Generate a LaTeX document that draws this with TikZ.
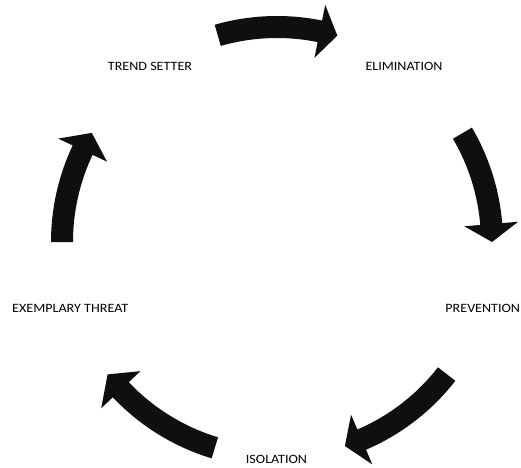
\documentclass[tikz,border=0pt]{standalone}
\usepackage{fontspec}
\setmainfont{Carlito}
\tikzset{
  lbl/.style={inner sep=0pt, xscale=1.11, transform shape, font=\fontsize{12.7}{14}\selectfont},
  cyc/.style={fill=black!94}
}
% tail angle, head-base angle, tip angle
\newcommand{\cycarrow}[3]{%
  \fill[cyc] (#1:226pt) arc[start angle=#1, end angle=#2, radius=226pt]
    -- (#2:242pt) -- (#3:215pt) -- (#2:188pt) -- (#2:204pt)
    arc[start angle=#2, end angle=#1, radius=204pt] -- cycle;}
\begin{document}
\begin{tikzpicture}[x=1pt,y=1pt]
  \useasboundingbox[fill=white] (0,0) rectangle (521,467);
  \node[lbl, anchor=base] (trend) at (150,396.5) {TREND SETTER};
  \node[lbl, anchor=base] (elim) at (404,396.5) {ELIMINATION};
  \node[lbl, anchor=base east] (prev) at (520.3,154.5) {PREVENTION};
  \node[lbl, anchor=base] (iso) at (276.5,3.5) {ISOLATION};
  \node[lbl, anchor=base west] (exem) at (12,154.5) {EXEMPLARY THREAT};
  \coordinate (c) at (277,225);
  \begin{scope}[shift={(c)}]
    \cycarrow{106}{78.5}{73.7}
    \cycarrow{30.4}{4.8}{0}
    \cycarrow{-37.9}{-66.8}{-71.6}
    \cycarrow{-106.8}{-136.6}{-142}
    \cycarrow{180}{154.7}{149.5}
  \end{scope}
\end{tikzpicture}
\end{document}
